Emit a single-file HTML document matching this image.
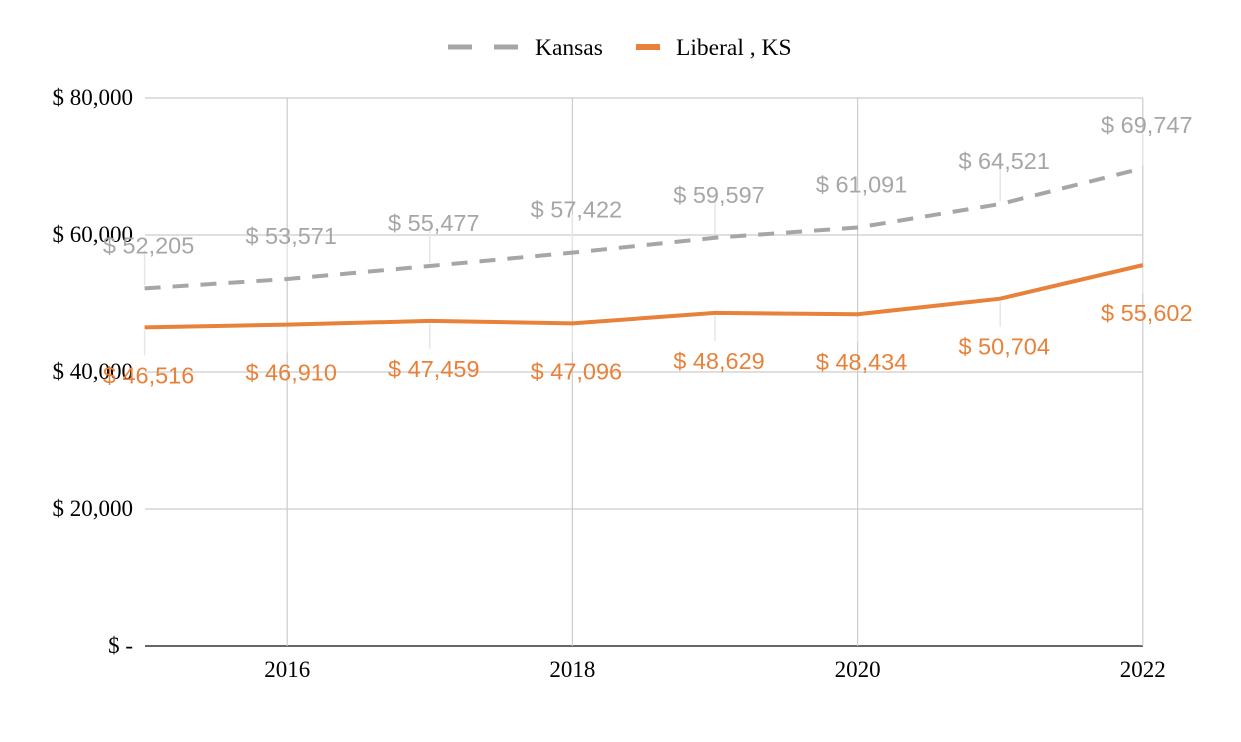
<!DOCTYPE html>
<html><head><meta charset="utf-8"><style>
body{margin:0;background:#fff;width:1241px;height:742px;overflow:hidden}
svg{display:block}
.ax{font-family:"Liberation Serif",serif;font-size:23px;fill:#000}
.lg{font-family:"Liberation Serif",serif;font-size:23.5px;fill:#000}
.dl{font-family:"Liberation Sans",sans-serif;font-size:23.5px}
</style></head><body>
<svg id="c" width="1241" height="742"></svg>
<script>
const years=[2015,2016,2017,2018,2019,2020,2021,2022];
const kansas=[52205,53571,55477,57422,59597,61091,64521,69747];
const liberal=[46516,46910,47459,47096,48629,48434,50704,55602];
const yTicks=[0,20000,40000,60000,80000];
const yTickLabels=["$ -","$ 20,000","$ 40,000","$ 60,000","$ 80,000"];
const xTicks=[2016,2018,2020,2022];
const NS="http://www.w3.org/2000/svg";
const svg=document.getElementById('c');
const x=v=>144.6+(v-2015)*142.6;
const y=v=>646-v*(548/80000);
function el(t,a,p){const e=document.createElementNS(NS,t);for(const k in a)e.setAttribute(k,a[k]);(p||svg).appendChild(e);return e;}
const fmt=v=>"$ "+v.toLocaleString("en-US");
yTicks.forEach((t,i)=>{
 const g=el('line',{x1:145,x2:1143,y1:y(t),y2:y(t),stroke:i==0?'#333':'#ccc','stroke-width':i==0?1.5:1.2});
 
 
 const tx=el('text',{x:133,y:y(t)+7,'text-anchor':'end',class:'ax'});tx.textContent=yTickLabels[i];
 
 
});
xTicks.forEach(t=>{
 const g=el('line',{x1:x(t),x2:x(t),y1:98,y2:646,stroke:'#ccc','stroke-width':1.2});
 
 
 const tx=el('text',{x:x(t),y:677,'text-anchor':'middle',class:'ax'});tx.textContent=t;
 
 
});
function series(vals,color,dash,name,above){
 const p=el('polyline',{points:vals.map((v,i)=>x(years[i])+','+y(v)).join(' '),fill:'none',stroke:color,'stroke-width':4,'stroke-dasharray':dash||''});
 
 
 vals.forEach((v,i)=>{
  const px=x(years[i]),py=y(v);
  const ly=above?py-43:py+48;
  const c=el('line',{x1:px,x2:px,y1:above?ly+5:py+3,y2:above?py-3:ly-20,stroke:'#e6e6e6','stroke-width':1.5});
  
  
  const t=el('text',{x:px+4,y:ly+8,'text-anchor':'middle',class:'dl',fill:color});t.textContent=fmt(v);
  
  
 });
}
series(kansas,'#a6a6a6','16 12','kansas',true);
series(liberal,'#e8823a','','liberal',false);
const l1=el('line',{x1:448,x2:518,y1:47,y2:47,stroke:'#a6a6a6','stroke-width':5,'stroke-dasharray':'24 22'});


const t1=el('text',{x:535,y:55,class:'lg'});t1.textContent='Kansas';


const l2=el('line',{x1:636,x2:660,y1:47,y2:47,stroke:'#e8823a','stroke-width':6});


const t2=el('text',{x:676,y:55,class:'lg'});t2.textContent='Liberal , KS';


</script>
</body></html>
